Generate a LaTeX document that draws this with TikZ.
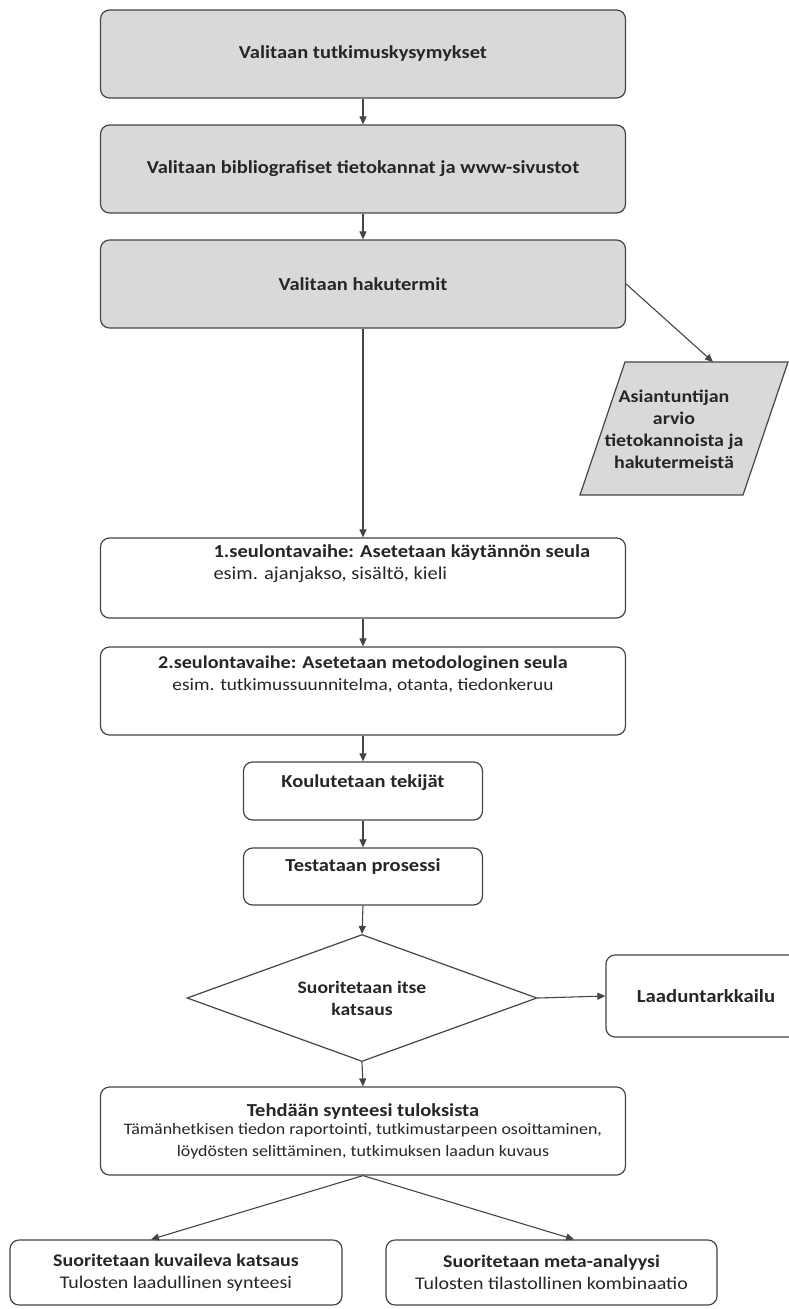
\documentclass[tikz,border=0pt]{standalone}
\usepackage{fontspec}
\setmainfont{Carlito}[FakeStretch=1.12]
\usetikzlibrary{shapes.geometric,arrows.meta,calc}
\definecolor{boxgray}{HTML}{D9D9D9}
\definecolor{linegray}{HTML}{454545}
\definecolor{txt}{HTML}{262626}
\newcommand{\bxt}[4]{\parbox[c][#2][c]{#1}{\centering #4\par\vspace*{#3}}}
\newcommand{\fs}[1]{\fontsize{#1}{22}\selectfont}
\begin{document}
\begin{tikzpicture}[x=1pt,y=-1pt,
  box/.style={draw=linegray, line width=1.2pt, rounded corners=9pt, inner sep=0pt, text=txt, font=\fs{18.3}},
  graybox/.style={box, fill=boxgray},
  arr/.style={draw=linegray, line width=1.1pt, -{Triangle[length=8pt,width=7pt]}}]
\useasboundingbox (0,0) rectangle (789,1309);
\fill[white] (0,0) rectangle (789,1309);

\node[graybox] (b1) at (363,54) {\bxt{525pt}{88pt}{0pt}{\textbf{Valitaan tutkimuskysymykset}}};
\node[graybox] (b2) at (363,169) {\bxt{525pt}{88pt}{0pt}{\textbf{Valitaan bibliografiset tietokannat ja www-sivustot}}};
\node[graybox] (b3) at (363,284) {\bxt{525pt}{88pt}{0pt}{\textbf{Valitaan hakutermit}}};

\filldraw[fill=boxgray, draw=linegray, line width=1.2pt] (625,362) -- (788,362) -- (743,495) -- (580,495) -- cycle;
\node[align=center, text=txt, font=\fs{17.8}\bfseries] (par) at (674,429) {Asiantuntijan\\arvio\\tietokannoista ja\\hakutermeistä};
\coordinate (parTop) at (713,362);

\node[box] (b4) at (363,578) {\parbox[c][80pt][c]{525pt}{\raggedright\leftskip=113pt \textbf{1.seulontavaihe: Asetetaan käytännön seula}\\ esim. ajanjakso, sisältö, kieli\par\vspace*{28pt}}};
\node[box] (b5) at (363,691) {\bxt{525pt}{88pt}{34pt}{{\fs{18}\textbf{2.seulontavaihe: Asetetaan metodologinen seula}}\\ {\fs{17.3}esim. tutkimussuunnitelma, otanta, tiedonkeruu}}};
\node[box] (b6) at (363,791) {\bxt{239pt}{58pt}{16pt}{\textbf{Koulutetaan tekijät}}};
\node[box] (b7) at (363,876.5) {\bxt{239pt}{57pt}{20pt}{\textbf{Testataan prosessi}}};

\node[draw=linegray, line width=1.2pt, diamond, aspect=2.76, minimum width=350pt, minimum height=127pt, inner sep=0pt, align=center, text=txt, font=\fs{17.5}\bfseries] (dia) at (362,998) {Suoritetaan itse\\katsaus};
\node[box] (lq) at (706,996) {\bxt{200pt}{82pt}{0pt}{\fs{18.5}\textbf{Laaduntarkkailu}}};

\node[box] (b8) at (363,1131) {\bxt{525pt}{88pt}{0pt}{\textbf{Tehdään synteesi tuloksista}\\[-1pt] {\fontsize{16}{19}\selectfont Tämänhetkisen tiedon raportointi, tutkimustarpeen osoittaminen,\\ löydösten selittäminen, tutkimuksen laadun kuvaus}}};

\node[box] (b9) at (176,1272.5) {\bxt{332pt}{65pt}{0pt}{{\fs{17.8}\textbf{Suoritetaan kuvaileva katsaus}}\\ {\fs{17.8}Tulosten laadullinen synteesi}}};
\node[box] (b10) at (551.5,1272.5) {\bxt{331pt}{65pt}{0pt}{{\fs{17.8}\textbf{Suoritetaan meta-analyysi}}\\ {\fs{17.8}Tulosten tilastollinen kombinaatio}}};

\coordinate (t9) at ($(b9.north west)!0.425!(b9.north east)$);
\coordinate (t10) at ($(b10.north west)!0.568!(b10.north east)$);

\draw[arr] (b1.south) -- (b2.north);
\draw[arr] (b2.south) -- (b3.north);
\draw[arr] (b3.south) -- (b4.north);
\draw[arr] (b3.east) -- (parTop);
\draw[arr] (b4.south) -- (b5.north);
\draw[arr] (b5.south) -- (b6.north);
\draw[arr] (b6.south) -- (b7.north);
\draw[arr] (b7.south) -- (dia.north);
\draw[arr] (dia.east) -- (lq.west);
\draw[arr] (dia.south) -- (b8.north);
\draw[arr] (b8.south) -- (t9);
\draw[arr] (b8.south) -- (t10);
\end{tikzpicture}
\end{document}
